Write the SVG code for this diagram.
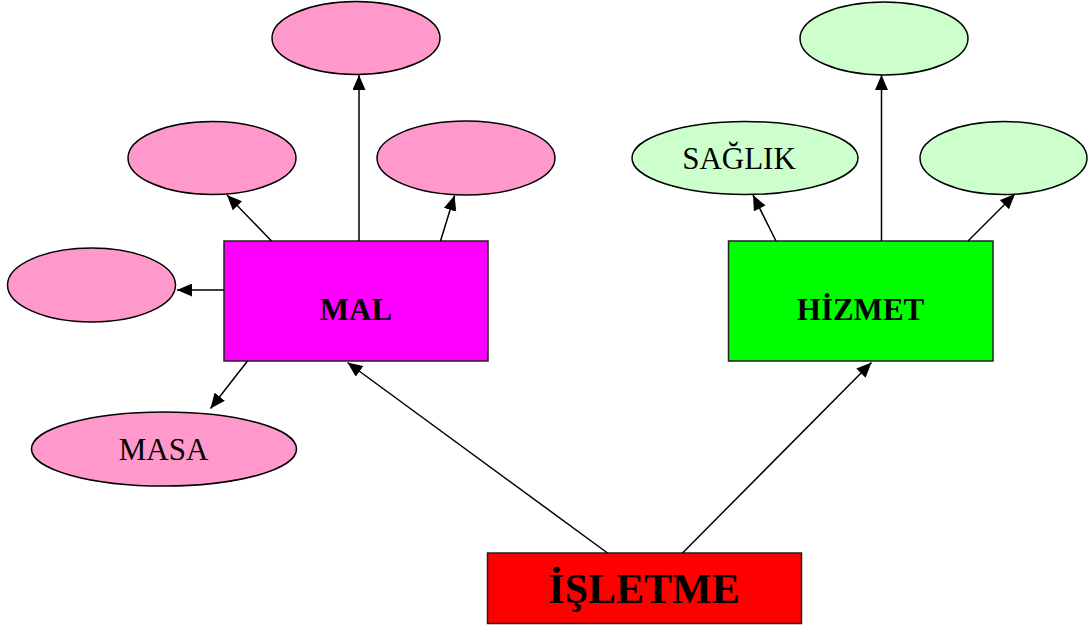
<svg xmlns="http://www.w3.org/2000/svg" width="1088" height="629" viewBox="0 0 1088 629">
<style>
.pink{fill:#ff99cc;stroke:#000;stroke-width:1.5}
.lgreen{fill:#ccffcc;stroke:#000;stroke-width:1.5}
.box{stroke:#222;stroke-width:1.5}
.conn line{stroke:#000;stroke-width:1.5;marker-end:url(#arr)}
.lbl{font-family:"Liberation Serif","Times New Roman",serif;text-anchor:middle;fill:#000}
.b{font-weight:bold}
</style>
<defs>
<marker id="arr" markerUnits="userSpaceOnUse" markerWidth="15" markerHeight="13" refX="15" refY="6.5" orient="auto">
<path d="M0,0 L15,6.5 L0,13 z" fill="#000"/>
</marker>
</defs>
<rect width="1088" height="629" fill="#fff"/>
<g id="mal-top"><ellipse class="pink" cx="356" cy="38" rx="84" ry="36.5"/></g>
<g id="mal-ul"><ellipse class="pink" cx="212" cy="158" rx="84" ry="36.5"/></g>
<g id="mal-ur"><ellipse class="pink" cx="466" cy="158" rx="89" ry="37"/></g>
<g id="mal-left"><ellipse class="pink" cx="91.5" cy="285" rx="84" ry="37"/></g>
<g id="masa"><ellipse class="pink" cx="164" cy="449" rx="132.5" ry="37"/><text class="lbl" x="163.5" y="460" font-size="31">MASA</text></g>
<g id="hiz-top"><ellipse class="lgreen" cx="884" cy="38.5" rx="84" ry="36.5"/></g>
<g id="saglik"><ellipse class="lgreen" cx="745" cy="158" rx="113" ry="36.5"/><text class="lbl" x="739" y="169" font-size="31">SAĞLIK</text></g>
<g id="hiz-right"><ellipse class="lgreen" cx="1003.5" cy="158" rx="83.5" ry="36.5"/></g>
<g id="mal"><rect class="box" x="224" y="241" width="264" height="120" fill="#ff00ff"/><text class="lbl b" x="356" y="320" font-size="31">MAL</text></g>
<g id="hizmet"><rect class="box" x="728.5" y="241" width="264.5" height="120" fill="#00ff00"/><text class="lbl b" x="860.5" y="320" font-size="31">HİZMET</text></g>
<g id="isletme"><rect class="box" x="487.5" y="553" width="314" height="70.5" fill="#ff0000"/><text class="lbl b" x="644" y="603" font-size="42">İŞLETME</text></g>
<g id="connectors" class="conn">
<line x1="359" y1="241" x2="359" y2="75"/>
<line x1="271.5" y1="241" x2="227" y2="195"/>
<line x1="440.5" y1="241" x2="454.5" y2="195.5"/>
<line x1="224" y1="290" x2="177" y2="290"/>
<line x1="247.5" y1="361" x2="210.5" y2="408.5"/>
<line x1="607.5" y1="553" x2="347.5" y2="362.5"/>
<line x1="682.5" y1="553" x2="871.5" y2="362.5"/>
<line x1="881.5" y1="241" x2="881.5" y2="75"/>
<line x1="776" y1="241" x2="753" y2="195"/>
<line x1="968" y1="241" x2="1015" y2="194"/>
</g>
</svg>
